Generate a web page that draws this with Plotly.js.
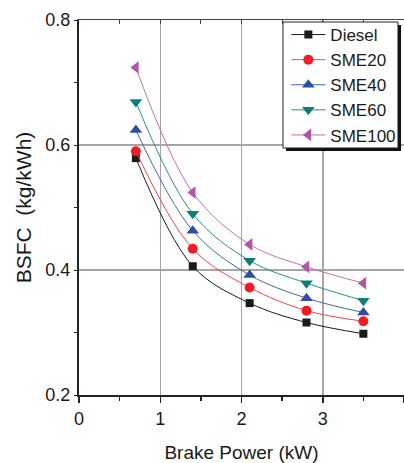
<!DOCTYPE html>
<html><head><meta charset="utf-8">
<script src="https://cdn.plot.ly/plotly-3.0.1.min.js"></script>
<style>html,body{margin:0;padding:0;background:#fff}#chart{width:404px;height:463px}</style>
</head><body><div id="chart"></div>
<script>
const power = [0.7, 1.4, 2.1, 2.8, 3.5];
const diesel = [0.579, 0.406, 0.347, 0.316, 0.298];
const sme20  = [0.590, 0.434, 0.372, 0.335, 0.318];
const sme40  = [0.624, 0.463, 0.392, 0.355, 0.332];
const sme60  = [0.669, 0.490, 0.415, 0.379, 0.351];
const sme100 = [0.724, 0.524, 0.441, 0.405, 0.379];
const names = ['Diesel', 'SME20', 'SME40', 'SME60', 'SME100'];
const seriesList = [diesel, sme20, sme40, sme60, sme100];
const colors = ['#1a1a1a', '#ee1c24', '#2f4fa4', '#0c7f78', '#b553a8'];
const lineColors = ['#1a1a1a', '#f0454b', '#4a64ad', '#2a8f88', '#c070b4'];
const symbols = ['square', 'circle', 'triangle-up', 'triangle-down', 'triangle-left'];
const sizes = [8, 10, 11, 11, 11];

const traces = seriesList.map((ys, i) => ({
  x: power, y: ys, name: names[i], type: 'scatter', mode: 'lines+markers',
  line: {color: lineColors[i], width: 1, shape: 'spline', smoothing: 1.0},
  marker: {color: colors[i], symbol: symbols[i], size: sizes[i], line: {width: 0}},
  cliponaxis: false
}));

const font = {family: 'Liberation Sans, Arial, sans-serif', color: '#1a1a1a'};
const layout = {
  width: 404, height: 463,
  margin: {l: 79, r: 0, t: 20, b: 68},
  paper_bgcolor: '#fff', plot_bgcolor: '#fff',
  font: Object.assign({size: 18}, font),
  showlegend: true,
  legend: {x: 0.638, y: 1.008, xanchor: 'left', yanchor: 'top',
    bgcolor: 'rgba(0,0,0,0)', borderwidth: 0,
    font: Object.assign({size: 17}, font), tracegroupgap: 0, itemwidth: 34},
  xaxis: {range: [0, 4], dtick: 1, tick0: 0, ticks: 'outside', ticklen: 6, tickwidth: 1.5,
    tickcolor: '#222', showline: true, linecolor: '#222', linewidth: 2, mirror: false,
    showgrid: true, gridcolor: '#a6a6a6', gridwidth: 1.5, zeroline: false,
    minor: {dtick: 0.5, ticks: 'outside', ticklen: 4, tickcolor: '#222', showgrid: false},
    tickfont: Object.assign({size: 18}, font),
    title: {text: 'Brake Power (kW)', font: Object.assign({size: 19}, font), standoff: 20}},
  xaxis2: {range: [0, 4], overlaying: 'x', side: 'top', dtick: 1, ticks: 'inside', ticklen: 4,
    tickcolor: '#444', showticklabels: false, showline: true, linecolor: '#444', linewidth: 1,
    showgrid: false, zeroline: false,
    minor: {dtick: 0.5, ticks: 'inside', ticklen: 4, tickcolor: '#444'}},
  yaxis: {range: [0.2, 0.8], dtick: 0.2, tick0: 0.2, tickformat: '.1f', ticks: 'outside', ticklen: 3,
    tickcolor: '#222', showline: true, linecolor: '#222', linewidth: 2,
    showgrid: true, gridcolor: '#a6a6a6', gridwidth: 1.5, zeroline: false,
    minor: {dtick: 0.1, ticks: 'outside', ticklen: 3, tickcolor: '#222', showgrid: false},
    tickfont: Object.assign({size: 18}, font),
    title: {text: 'BSFC\u00a0 (kg/kWh)', font: Object.assign({size: 21}, font), standoff: 8}},
  shapes: [
    {type: 'rect', xref: 'paper', yref: 'paper', x0: 0.637, x1: 0.9908, y0: 0.6507, y1: 0.9867,
     fillcolor: '#111', line: {width: 0}, layer: 'above'},
    {type: 'rect', xref: 'paper', yref: 'paper', x0: 0.6277, x1: 0.9815, y0: 0.6587, y1: 0.9947,
     fillcolor: '#fff', line: {width: 1, color: '#222'}, layer: 'above'}
  ]
};
traces.push({x: [0, 4], y: [0.5, 0.5], xaxis: 'x2', yaxis: 'y', mode: 'none', showlegend: false, hoverinfo: 'skip'});
Plotly.newPlot('chart', traces, layout, {staticPlot: true});
</script></body></html>
